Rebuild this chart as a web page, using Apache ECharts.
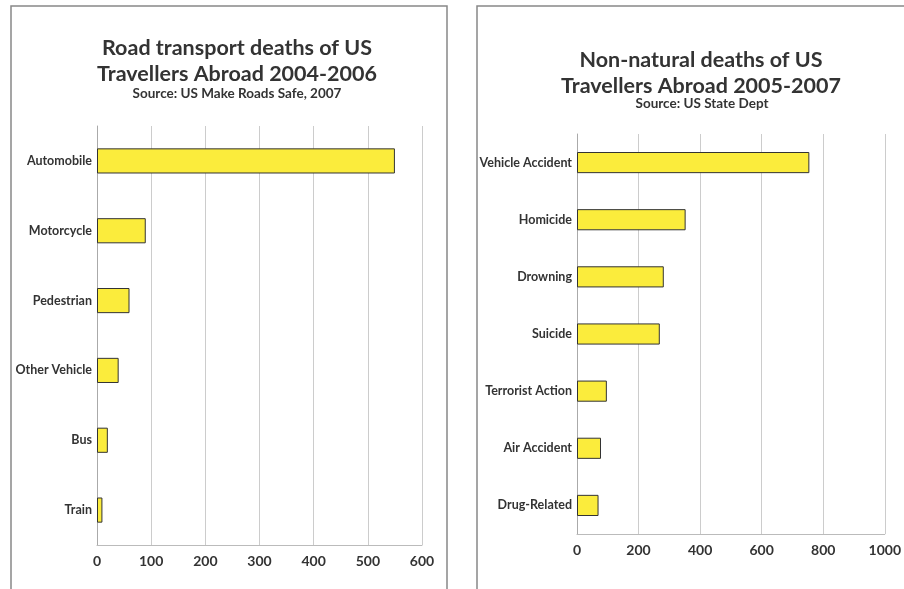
<!DOCTYPE html>
<html>
<head>
<meta charset="utf-8">
<script src="https://cdn.jsdelivr.net/npm/echarts@6/dist/echarts.min.js"></script>
<style>html,body{margin:0;padding:0;background:#fff}#c{width:904px;height:589px}</style>
</head>
<body>
<div id="c"></div>
<script>
const roadCategories = ['Automobile', 'Motorcycle', 'Pedestrian', 'Other Vehicle', 'Bus', 'Train'];
const roadValues = [550, 90, 60, 40, 20, 10];
const roadTicks = [0, 100, 200, 300, 400, 500, 600];

const nonNatCategories = ['Vehicle Accident', 'Homicide', 'Drowning', 'Suicide', 'Terrorist Action', 'Air Accident', 'Drug-Related'];
const nonNatValues = [755, 353, 282, 269, 97, 78, 70];
const nonNatTicks = [0, 200, 400, 600, 800, 1000];

const FONT = 'Lato';
const chart = echarts.init(document.getElementById('c'));
const catAxis = (idx, cats) => ({
  type: 'category', gridIndex: idx, data: cats, inverse: true,
  axisLine: { lineStyle: { color: '#aaa', width: 1 } },
  axisTick: { inside: true, length: 9, lineStyle: { color: '#ccc' } },
  axisLabel: { color: '#333', fontWeight: 'bold', fontSize: 12.5, fontFamily: FONT, margin: 5 },
  splitLine: { show: false }
});
const valAxis = (idx, ticks) => ({
  type: 'value', gridIndex: idx, min: ticks[0], max: ticks[ticks.length - 1],
  interval: ticks[1] - ticks[0],
  axisLine: { show: true, lineStyle: { color: '#bbb' } },
  axisTick: { show: false },
  axisLabel: { color: '#333', fontWeight: 'bold', fontSize: 14, fontFamily: FONT, margin: 9,
    formatter: v => String(v) },
  splitLine: { show: true, lineStyle: { color: '#ccc', width: 1 } }
});
const barStyle = { color: '#fbec3c', borderColor: '#333', borderWidth: 1 };

chart.setOption({
  animation: false,
  backgroundColor: '#fff',
  graphic: [
    { type: 'rect', shape: { x: 11, y: 6, width: 436, height: 600 }, style: { fill: 'none', stroke: '#888', lineWidth: 1.5 } },
    { type: 'rect', shape: { x: 477, y: 6, width: 450, height: 600 }, style: { fill: 'none', stroke: '#888', lineWidth: 1.5 } }
  ],
  title: [
    { text: 'Road transport deaths of US\nTravellers Abroad 2004-2006', left: 232, top: 30, textAlign: 'center',
      textStyle: { fontFamily: FONT, fontWeight: 'bold', fontSize: 21.5, lineHeight: 26, color: '#333' } },
    { text: 'Source: US Make Roads Safe, 2007', left: 232, top: 82, textAlign: 'center',
      textStyle: { fontFamily: FONT, fontWeight: 'bold', fontSize: 13.5, color: '#333' } },
    { text: 'Non-natural deaths of US\nTravellers Abroad 2005-2007', left: 696, top: 42, textAlign: 'center',
      textStyle: { fontFamily: FONT, fontWeight: 'bold', fontSize: 21.5, lineHeight: 26, color: '#333' } },
    { text: 'Source: US State Dept', left: 697, top: 92, textAlign: 'center',
      textStyle: { fontFamily: FONT, fontWeight: 'bold', fontSize: 13.5, color: '#333' } }
  ],
  grid: [
    { left: 97, right: 482, top: 126, bottom: 44 },
    { left: 577, right: 18, top: 134, bottom: 55 }
  ],
  yAxis: [catAxis(0, roadCategories), catAxis(1, nonNatCategories)],
  xAxis: [valAxis(0, roadTicks), valAxis(1, nonNatTicks)],
  series: [
    { type: 'bar', xAxisIndex: 0, yAxisIndex: 0, data: roadValues, barWidth: '36%', itemStyle: barStyle },
    { type: 'bar', xAxisIndex: 1, yAxisIndex: 1, data: nonNatValues, barWidth: '37%', itemStyle: barStyle }
  ]
});
</script>
</body>
</html>
